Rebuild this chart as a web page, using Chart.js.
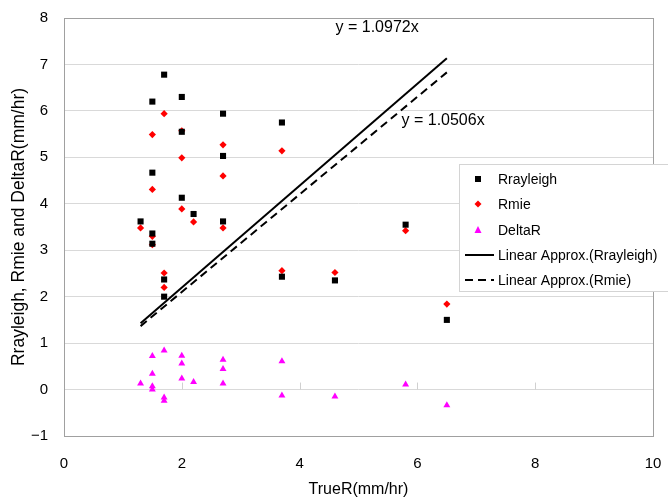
<!DOCTYPE html>
<html lang="en">
<head>
<meta charset="UTF-8">
<title>TrueR vs Rrayleigh / Rmie</title>
<script src="https://cdn.jsdelivr.net/npm/chart.js"></script>
<style>
  html, body { margin: 0; padding: 0; background: #fff; overflow: hidden; }
  #wrap { width: 668px; height: 499px; }
</style>
</head>
<body>
<div id="wrap"><canvas id="chart" width="668" height="499"></canvas></div>
<script>
  // values
  const trueR     = [1.3, 1.5, 1.5, 1.5, 1.5, 1.7, 1.7, 1.7, 2.0, 2.0, 2.0, 2.2, 2.7, 2.7, 2.7, 3.7, 3.7, 4.6, 5.8, 6.5];
  const rRayleigh = [3.62, 6.2, 4.67, 3.36, 3.14, 6.78, 2.37, 2.0, 6.3, 5.55, 4.13, 3.78, 5.94, 5.03, 3.62, 5.75, 2.43, 2.35, 3.55, 1.5];
  const rMie      = [3.48, 5.49, 4.31, 3.3, 3.12, 5.94, 2.51, 2.2, 5.57, 4.99, 3.89, 3.61, 5.27, 4.6, 3.48, 5.14, 2.56, 2.52, 3.42, 1.84];
  const deltaR    = [0.13, 0.72, 0.34, 0.07, 0.0, 0.84, -0.17, -0.24, 0.73, 0.56, 0.24, 0.16, 0.64, 0.44, 0.13, 0.61, -0.13, -0.15, 0.11, -0.34];

  // trend lines through the origin (slopes from the labels)
  const slopeRayleigh = 1.0972;
  const slopeMie = 1.0506;
  const eqLabels = ['y = 1.0972x', 'y = 1.0506x'];

  const xMin = 0, xMax = 10, xStep = 2;
  const yMin = -1, yMax = 8, yStep = 1;

  const FONT = "'Liberation Sans', Arial, sans-serif";

  const pts = (xs, ys) => xs.map((x, i) => ({ x: x, y: ys[i] }));
  const lo = Math.min(...trueR), hi = Math.max(...trueR);
  const trend = s => [{ x: lo, y: s * lo }, { x: hi, y: s * hi }];

  // little helpers to draw markers in the legend
  function marker(ctx, kind, x, y, color) {
    ctx.save();
    ctx.fillStyle = color;
    ctx.beginPath();
    if (kind === 'rect') {
      ctx.rect(x - 3, y - 3, 6, 6);
    } else if (kind === 'rectRot') {
      ctx.moveTo(x, y - 3.5); ctx.lineTo(x + 3.5, y); ctx.lineTo(x, y + 3.5); ctx.lineTo(x - 3.5, y);
    } else {
      ctx.moveTo(x, y - 4); ctx.lineTo(x + 3.5, y + 3); ctx.lineTo(x - 3.5, y + 3);
    }
    ctx.closePath();
    ctx.fill();
    ctx.restore();
  }

  const extras = {
    id: 'extras',
    beforeDatasetsDraw(chart) {
      const { ctx, chartArea: a, scales: { x, y } } = chart;
      ctx.save();
      // small marks on the zero line
      ctx.strokeStyle = '#d0d0d0';
      ctx.lineWidth = 1;
      for (let v = xMin + xStep; v < xMax; v += xStep) {
        const px = Math.round(x.getPixelForValue(v)) + 0.5;
        const py = y.getPixelForValue(0);
        ctx.beginPath(); ctx.moveTo(px, py); ctx.lineTo(px, py - 7); ctx.stroke();
      }
      // plot frame
      ctx.strokeStyle = '#a0a0a0';
      ctx.strokeRect(Math.round(a.left) + 0.5, Math.round(a.top) + 0.5,
                     Math.round(a.right - a.left), Math.round(a.bottom - a.top));
      ctx.restore();
    },
    afterDatasetsDraw(chart) {
      const { ctx, scales: { x, y } } = chart;
      ctx.save();
      ctx.fillStyle = '#000';
      ctx.font = '16px ' + FONT;
      ctx.textBaseline = 'middle';
      ctx.textAlign = 'left';
      ctx.fillText(eqLabels[0], x.getPixelForValue(4.61), y.getPixelForValue(7.8));
      ctx.fillText(eqLabels[1], x.getPixelForValue(5.73), y.getPixelForValue(5.8));

      // legend box
      const bx = 459, by = 164, bw = 225, bh = 127;
      ctx.fillStyle = '#fff';
      ctx.fillRect(bx, by, bw, bh);
      ctx.strokeStyle = '#d4d4d4';
      ctx.lineWidth = 1;
      ctx.strokeRect(bx + 0.5, by + 0.5, bw, bh);

      const items = [
        { text: 'Rrayleigh', kind: 'rect', color: '#000' },
        { text: 'Rmie', kind: 'rectRot', color: '#ff0000' },
        { text: 'DeltaR', kind: 'triangle', color: '#ff00ff' },
        { text: 'Linear Approx.(Rrayleigh)', kind: 'line', dash: [] },
        { text: 'Linear Approx.(Rmie)', kind: 'line', dash: [8, 5] }
      ];
      const rows = [179, 204, 230, 255, 280];
      ctx.font = '14px ' + FONT;
      items.forEach((it, i) => {
        const ry = rows[i];
        if (it.kind === 'line') {
          ctx.save();
          ctx.strokeStyle = '#000';
          ctx.lineWidth = 2;
          ctx.setLineDash(it.dash);
          ctx.beginPath(); ctx.moveTo(465, ry); ctx.lineTo(494, ry); ctx.stroke();
          ctx.restore();
        } else {
          marker(ctx, it.kind, 478, ry, it.color);
        }
        ctx.fillStyle = '#000';
        ctx.fillText(it.text, 498, ry + 1);
      });
      ctx.restore();
    }
  };

  // keep tick labels from pushing the plot area in
  function noOverflow(s) {
    s.paddingTop = 0; s.paddingBottom = 0; s.paddingLeft = 0; s.paddingRight = 0;
  }

  new Chart(document.getElementById('chart'), {
    type: 'scatter',
    data: {
      datasets: [
        { label: 'Rrayleigh', data: pts(trueR, rRayleigh), pointStyle: 'rect', pointRadius: 4.3,
          backgroundColor: '#000', borderColor: '#000', borderWidth: 0 },
        { label: 'Rmie', data: pts(trueR, rMie), pointStyle: 'rectRot', pointRadius: 3.6,
          backgroundColor: '#ff0000', borderColor: '#ff0000', borderWidth: 0 },
        { label: 'DeltaR', data: pts(trueR, deltaR), pointStyle: 'triangle', pointRadius: 4,
          backgroundColor: '#ff00ff', borderColor: '#ff00ff', borderWidth: 0 },
        { label: 'Linear Approx.(Rrayleigh)', data: trend(slopeRayleigh), showLine: true,
          pointRadius: 0, borderColor: '#000', borderWidth: 2 },
        { label: 'Linear Approx.(Rmie)', data: trend(slopeMie), showLine: true,
          pointRadius: 0, borderColor: '#000', borderWidth: 2, borderDash: [8, 5] }
      ]
    },
    options: {
      responsive: false,
      animation: false,
      layout: { padding: { left: 0, right: 15, top: 18, bottom: 0 } },
      plugins: { legend: { display: false }, tooltip: { enabled: false } },
      scales: {
        x: {
          type: 'linear', min: xMin, max: xMax,
          afterFit(s) { s.height = 63; noOverflow(s); },
          grid: { display: false, drawTicks: false },
          border: { display: false },
          ticks: { stepSize: xStep, padding: 19, color: '#000', font: { family: FONT, size: 15 } },
          title: { display: true, text: 'TrueR(mm/hr)', color: '#000',
                   font: { family: FONT, size: 16 }, padding: { top: 0, bottom: 0 } }
        },
        y: {
          type: 'linear', min: yMin, max: yMax,
          afterFit(s) { s.width = 64; noOverflow(s); },
          grid: { color: '#d9d9d9', drawTicks: false },
          border: { display: false },
          ticks: { stepSize: yStep, padding: 16, color: '#000', font: { family: FONT, size: 15 },
                   callback: v => String(v).replace('-', '\u2212') },
          title: { display: true, text: 'Rrayleigh, Rmie and DeltaR(mm/hr)', color: '#000',
                   font: { family: FONT, size: 17.5 }, padding: { top: 9, bottom: 0 } }
        }
      }
    },
    plugins: [extras]
  });
</script>
</body>
</html>
